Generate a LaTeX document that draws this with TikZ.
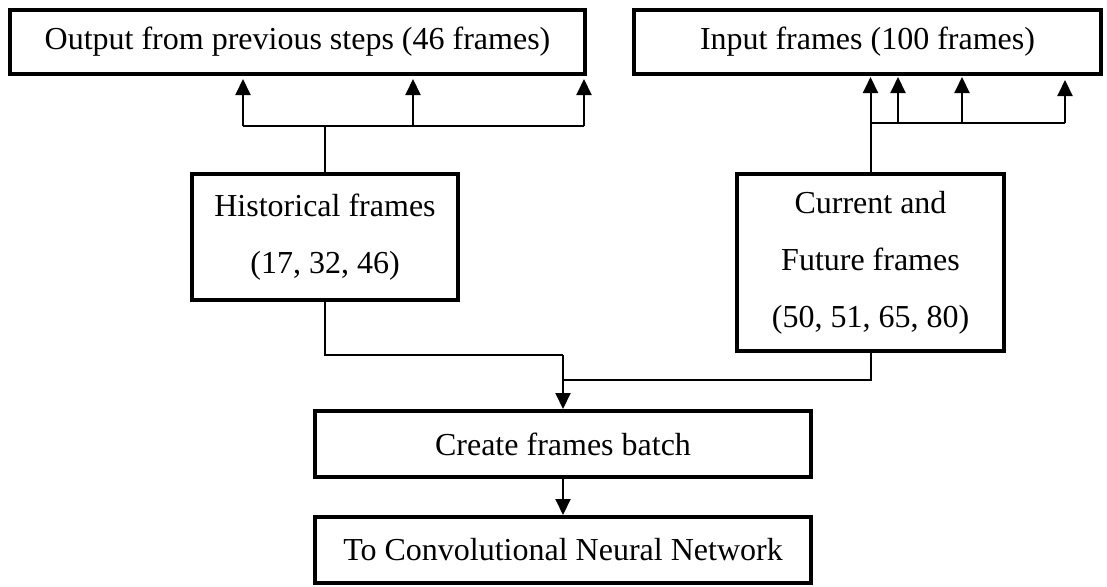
\documentclass[tikz,border=0pt]{standalone}
\usepackage{fontspec}
\setmainfont{Liberation Serif}
\usetikzlibrary{arrows.meta}
\begin{document}
\begin{tikzpicture}[x=1pt,y=-1pt,
  box/.style={draw, line width=4pt, inner sep=0pt, align=center,
    font=\fontsize{32}{57}\selectfont},
  conn/.style={line width=2pt},
  arr/.style={conn, -{Triangle[width=15pt,length=16pt]}}]
\useasboundingbox (0,0) rectangle (1107,586);
\fill[white] (0,0) rectangle (1107,586);
% boxes
\node[box, minimum width=575pt, minimum height=64pt] (out) at (297.5,42) {Output from previous steps (46 frames)};
\node[box, minimum width=467pt, minimum height=64pt] (in) at (867.5,42) {Input frames (100 frames)};
\node[box, minimum width=266pt, minimum height=126pt] (hist) at (325,237) {Historical frames\\(17, 32, 46)};
\node[box, minimum width=267pt, minimum height=177pt] (cur) at (870.5,262.5) {Current and\\Future frames\\(50, 51, 65, 80)};
\node[box, minimum width=496pt, minimum height=66pt] (create) at (563,444) {Create frames batch};
\node[box, minimum width=496pt, minimum height=66pt] (cnn) at (563,550) {To Convolutional Neural Network};
% left fan-out
\coordinate (lj) at (325,126);
\coordinate (la) at (243,126);
\coordinate (lb) at (413,126);
\coordinate (lc) at (584,126);
\draw[conn] (hist.north) -- (lj);
\draw[conn] (la) -- (lc);
\draw[arr, shorten >=3pt] (la) -- (la |- out.south);
\draw[arr, shorten >=3pt] (lb) -- (lb |- out.south);
\draw[arr, shorten >=3pt] (lc) -- (lc |- out.south);
% right fan-out
\coordinate (rj) at (871,123);
\coordinate (ra) at (898,123);
\coordinate (rb) at (962,123);
\coordinate (rc) at (1065,123);
\draw[arr, shorten >=1pt] (cur.north) -- (cur.north |- in.south);
\draw[conn] (rj) -- (rc);
\draw[arr, shorten >=1pt] (ra) -- (ra |- in.south);
\draw[arr, shorten >=1pt] (rb) -- (rb |- in.south);
\draw[arr, shorten >=4pt] (rc) -- (rc |- in.south);
% merge
\coordinate (bh) at (563,355);
\coordinate (bc) at (563,380);
\draw[conn] (hist.south) |- (bh);
\draw[conn] (cur.south) |- (bc);
\draw[arr] (bh) -- (create.north);
\draw[arr] (create.south) -- (cnn.north);
\end{tikzpicture}
\end{document}
